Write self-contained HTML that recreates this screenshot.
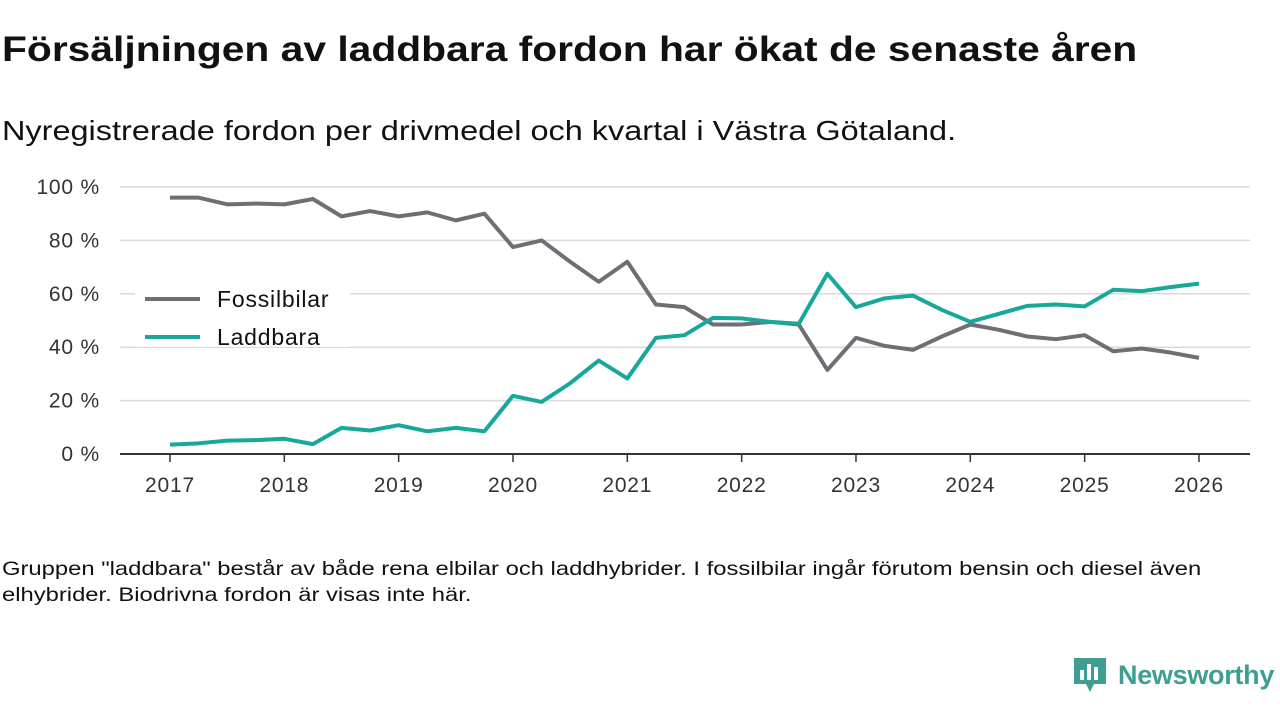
<!DOCTYPE html>
<html><head><meta charset="utf-8">
<style>
body{margin:0;width:1280px;height:720px;background:#fff;font-family:"Liberation Sans",sans-serif;color:#111;overflow:hidden;position:relative}
h1{position:absolute;left:2px;top:30px;margin:0;font-size:35px;font-weight:bold;transform-origin:0 0;transform:scaleX(1.165);white-space:nowrap}
.sub{position:absolute;left:2px;top:115px;font-size:27.5px;transform-origin:0 0;transform:scaleX(1.18);white-space:nowrap}
.note{position:absolute;left:2px;top:556px;font-size:19.5px;line-height:26px;transform-origin:0 0;transform:scaleX(1.22);white-space:nowrap}
.logo{position:absolute;left:1072px;top:656px;display:flex;align-items:center}
.logo span{font-size:27px;font-weight:bold;color:#3f9e92;margin-left:10px;letter-spacing:-0.3px}
svg{position:absolute;left:0;top:0}
</style></head><body>
<h1>Försäljningen av laddbara fordon har ökat de senaste åren</h1>
<div class="sub">Nyregistrerade fordon per drivmedel och kvartal i Västra Götaland.</div>
<svg id="chart" width="1280" height="720"></svg>
<div class="note">Gruppen "laddbara" består av både rena elbilar och laddhybrider. I fossilbilar ingår förutom bensin och diesel även<br>elhybrider. Biodrivna fordon är visas inte här.</div>
<div class="logo">
<svg width="36" height="38" style="position:static"><path d="M2 2h32v26h-12l-4 8-4-8H2z" fill="#3f9e92"/><rect x="8" y="14" width="4" height="10" fill="#fff"/><rect x="15" y="8" width="4" height="16" fill="#fff"/><rect x="22" y="11" width="4" height="13" fill="#fff"/></svg>
<span>Newsworthy</span></div>
<script>
const startYear = 2017;
const yearTicks = [2017,2018,2019,2020,2021,2022,2023,2024,2025,2026];
const yTicks = [0,20,40,60,80,100];
const fossil = [96,96,93.5,93.8,93.5,95.5,89,91,89,90.5,87.5,90,77.5,80,72,64.5,72,56,55,48.5,48.5,49.5,48.5,31.5,43.5,40.5,39,44,48.5,46.5,44,43,44.5,38.5,39.5,38,36];
const laddbara = [3.5,4,5,5.2,5.7,3.7,9.8,8.8,10.8,8.5,9.8,8.5,21.8,19.5,26.5,35,28.3,43.5,44.5,51,50.8,49.5,48.8,67.5,55,58.3,59.3,54,49.5,52.5,55.5,56,55.3,61.5,61,62.5,63.8];
const NS="http://www.w3.org/2000/svg";
const svg=document.getElementById('chart');
const x=t=>170+(t-startYear)*114.33;
const y=v=>454-v*2.67;
function el(tag,attrs,parent){const e=document.createElementNS(NS,tag);for(const k in attrs)e.setAttribute(k,attrs[k]);(parent||svg).appendChild(e);return e;}
yTicks.forEach(v=>{
  if(v>0){const g=el('line',{x1:120,x2:1250,y1:y(v),y2:y(v),stroke:'#d9d9d9','stroke-width':1.5});
  
  }
  const t=el('text',{x:100,y:y(v)+7,'text-anchor':'end','font-size':21,'letter-spacing':0.8,fill:'#333'});
  t.textContent=v+' %';
  
  
});
const ax=el('line',{x1:120,x2:1250,y1:454,y2:454,stroke:'#333','stroke-width':2});


yearTicks.forEach(yr=>{
  const tk=el('line',{x1:x(yr),x2:x(yr),y1:454,y2:462,stroke:'#333','stroke-width':1.5});
  
  
  const t=el('text',{x:x(yr),y:492,'text-anchor':'middle','font-size':21,'letter-spacing':0.8,fill:'#333'});
  t.textContent=yr;
  
  
});
function line(data,color,name){
  const p=el('polyline',{points:data.map((v,i)=>x(startYear+i/4)+','+y(v)).join(' '),fill:'none',stroke:color,'stroke-width':4,'stroke-linejoin':'round'});
  
  
}
line(fossil,'#6f6e75','fossilbilar-line');
line(laddbara,'#17a89b','laddbara-line');
[['Fossilbilar','#6f6e75',299],['Laddbara','#17a89b',337]].forEach(([n,c,yy])=>{
  const g=el('g',{});
  
  
  el('rect',{x:135,y:yy-26,width:215,height:36,fill:'#fff'},g);
  el('line',{x1:145,x2:200,y1:yy,y2:yy,stroke:c,'stroke-width':4},g);
  const t=el('text',{x:217,y:yy+8,'font-size':23,'letter-spacing':0.8,fill:'#111'},g);t.textContent=n;
});
</script>
</body></html>
